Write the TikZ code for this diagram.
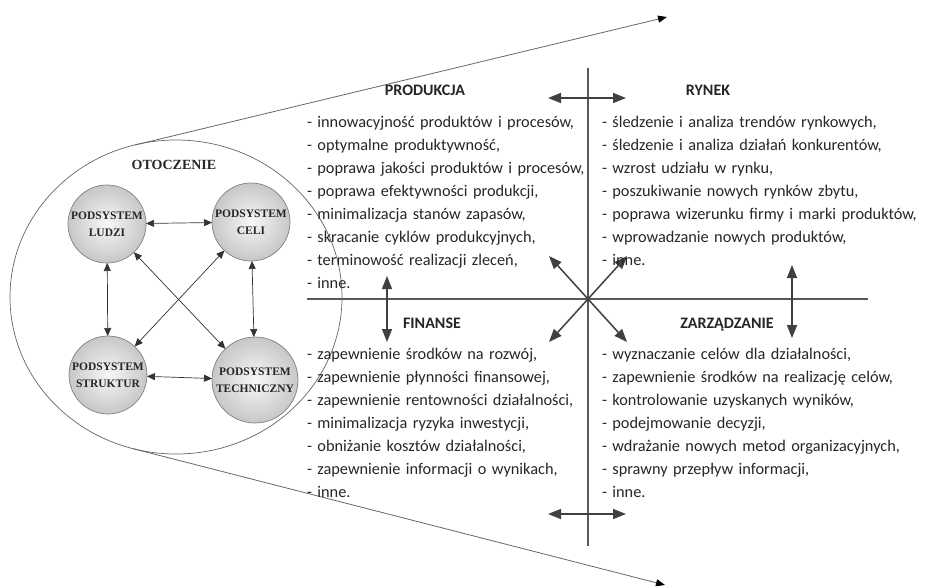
\documentclass[tikz,border=0pt]{standalone}
\usepackage{fontspec}
\setmainfont{Carlito}
\newfontfamily\timesb{Liberation Serif}
\usetikzlibrary{arrows.meta,shapes.geometric}
\hyphenpenalty=10000
\exhyphenpenalty=10000

\begin{document}
\begin{tikzpicture}[x=1pt,y=-1pt,
  every node/.style={inner sep=0pt, outer sep=0pt},
  listtext/.style={anchor=base west, text width=330pt, align=left,
    font=\fontsize{16.3}{23}\selectfont, text=black!85},
  heading/.style={anchor=base, font=\bfseries\fontsize{16}{19}\selectfont, text=black!85},
  subsys/.style={circle, draw=black!50, line width=0.7pt, inner color=black!3,
    outer color=black!22, minimum size=78pt, align=center,
    font=\timesb\bfseries\fontsize{11.5}{16.7}\selectfont, text=black!85},
  link/.style={line width=0.7pt, draw=black!80,
    {Triangle[length=8pt,width=7pt]}-{Triangle[length=8pt,width=7pt]}},
  axisline/.style={line width=1.1pt, draw=black!65},
  quad/.style={line width=1.5pt, draw=black!75, -{Triangle[length=13pt,width=10pt]}},
  quadboth/.style={line width=1.5pt, draw=black!75,
    {Triangle[length=13pt,width=10pt]}-{Triangle[length=13pt,width=10pt]}},
  ray/.style={line width=0.8pt, draw=black!60, -{Triangle[length=9pt,width=7pt,color=black]}},
]
\useasboundingbox (0,0) rectangle (925,586);

% environment ellipse and its two tangent rays
\node[draw=black!60, line width=0.7pt, ellipse, minimum width=332pt, minimum height=314pt] (env) at (176,297) {};
\node[font=\timesb\bfseries\fontsize{14}{16}\selectfont, text=black!85] (envlabel) at (174,165) {OTOCZENIE};

\coordinate (rayA) at (135,145);
\coordinate (rayAend) at (667,17);
\coordinate (rayB) at (132.5,448.5);
\coordinate (rayBend) at (665,585);
\draw[ray] (rayA) -- (rayAend);
\draw[ray] (rayB) -- (rayBend);

% subsystems
\node[subsys] (ludzi) at (107,224) {PODSYSTEM\\LUDZI};
\node[subsys] (celi) at (251,222) {PODSYSTEM\\CELI};
\node[subsys] (struk) at (108,375) {PODSYSTEM\\STRUKTUR};
\node[subsys, minimum size=86pt] (tech) at (255,380) {PODSYSTEM\\TECHNICZNY};

\draw[link] (ludzi) -- (celi);
\draw[link] (struk) -- (tech);
\draw[link] (ludzi) -- (struk);
\draw[link] (celi) -- (tech);
\draw[link] (ludzi) -- (tech);
\draw[link] (celi) -- (struk);

% quadrant axes
\coordinate (ctr) at (588,299);
\coordinate (vtop) at (588,68);
\coordinate (vbot) at (588,546);
\coordinate (hleft) at (307,299);
\coordinate (hright) at (868,299);
\draw[axisline] (vtop) -- (vbot);
\draw[axisline] (hleft) -- (hright);

% arrows between the four areas
\coordinate (qnw) at (549,256);
\coordinate (qne) at (627,256);
\coordinate (qsw) at (549,342);
\coordinate (qse) at (627,342);
\draw[quad] (ctr) -- (qnw);
\draw[quad] (ctr) -- (qne);
\draw[quad] (ctr) -- (qsw);
\draw[quad] (ctr) -- (qse);

\coordinate (topL) at (548,98);
\coordinate (topR) at (626,98);
\coordinate (botL) at (548,514);
\coordinate (botR) at (626,514);
\coordinate (leftT) at (387,276);
\coordinate (leftB) at (387,342);
\coordinate (rightT) at (792,265);
\coordinate (rightB) at (792,338);
\draw[quadboth] (topL) -- (topR);
\draw[quadboth] (botL) -- (botR);
\draw[quadboth] (leftT) -- (leftB);
\draw[quadboth] (rightT) -- (rightB);

% headings
\node[heading] (hprod) at (425,95) {PRODUKCJA};
\node[heading] (hrynek) at (708,95) {RYNEK};
\node[heading] (hfin) at (432,328) {FINANSE};
\node[heading] (hzarz) at (727,328) {ZARZĄDZANIE};

% lists
\node[listtext] (lprod) at (307,127) {- innowacyjność produktów i procesów,\\
- optymalne produktywność,\\
- poprawa jakości produktów i procesów,\\
- poprawa efektywności produkcji,\\
- minimalizacja stanów zapasów,\\
- skracanie cyklów produkcyjnych,\\
- terminowość realizacji zleceń,\\
- inne.};

\node[listtext] (lrynek) at (602,127) {- śledzenie i analiza trendów rynkowych,\\
- śledzenie i analiza działań konkurentów,\\
- wzrost udziału w rynku,\\
- poszukiwanie nowych rynków zbytu,\\
- poprawa wizerunku firmy i marki produktów,\\
- wprowadzanie nowych produktów,\\
- inne.};

\node[listtext] (lfin) at (307,359) {- zapewnienie środków na rozwój,\\
- zapewnienie płynności finansowej,\\
- zapewnienie rentowności działalności,\\
- minimalizacja ryzyka inwestycji,\\
- obniżanie kosztów działalności,\\
- zapewnienie informacji o wynikach,\\
- inne.};

\node[listtext] (lzarz) at (602,359) {- wyznaczanie celów dla działalności,\\
- zapewnienie środków na realizację celów,\\
- kontrolowanie uzyskanych wyników,\\
- podejmowanie decyzji,\\
- wdrażanie nowych metod organizacyjnych,\\
- sprawny przepływ informacji,\\
- inne.};

\end{tikzpicture}
\end{document}
